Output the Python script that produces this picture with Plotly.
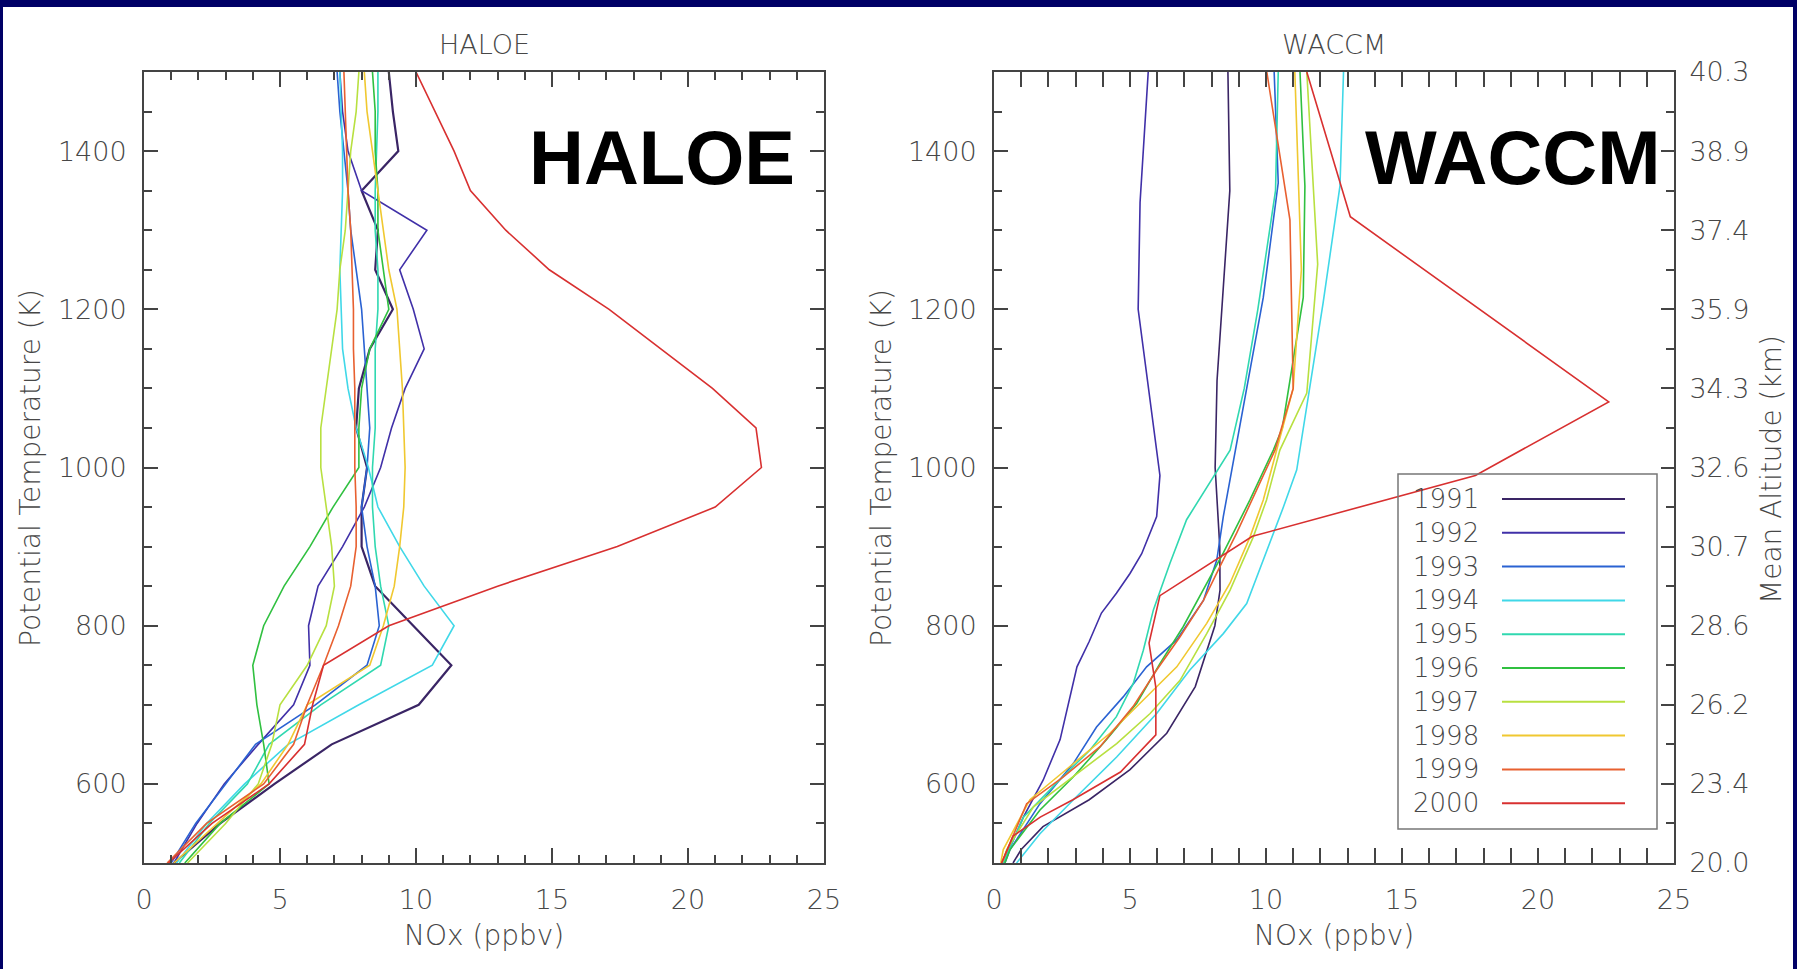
import plotly.graph_objects as go

W, H = 1797, 969

YEARS = ["1991", "1992", "1993", "1994", "1995", "1996", "1997", "1998", "1999", "2000"]
COLORS = ["#3a2565", "#4030a8", "#2a62d2", "#40d8e8", "#30d8b0",
          "#30c040", "#b8e040", "#f0c830", "#e86030", "#d83030"]

# ---------------- HALOE (left panel) ----------------
HALOE_THETA = [1500, 1450, 1400, 1350, 1300, 1250, 1200, 1150, 1100, 1050, 1000,
               950, 900, 850, 800, 750, 700, 650, 600, 550, 500]
HALOE_1991 = [9.0, 9.15, 9.35, 8.0, 8.6, 8.5, 9.15, 8.3, 7.9, 7.8, 8.2, 8.0, 8.0, 8.5, 9.9, 11.3, 10.1, 6.9, 4.8, 2.8, 1.1]
HALOE_1992 = [7.2, 7.3, 7.5, 8.0, 10.4, 9.4, 9.9, 10.3, 9.6, 9.1, 8.7, 8.1, 7.3, 6.4, 6.05, 6.1, 5.5, 4.2, 2.95, 1.95, 1.1]
HALOE_1993 = [7.1, 7.2, 7.35, 7.5, 7.6, 7.8, 8.0, 8.1, 8.2, 8.3, 8.2, 8.0, 8.2, 8.5, 8.65, 8.2, 6.3, 4.1, 3.0, 1.9, 1.0]
HALOE_1994 = [7.2, 7.25, 7.3, 7.3, 7.25, 7.2, 7.25, 7.3, 7.5, 7.8, 8.25, 8.6, 9.4, 10.3, 11.4, 10.6, 7.9, 5.3, 3.7, 2.3, 1.2]
HALOE_1995 = [8.6, 8.6, 8.55, 8.5, 8.5, 8.6, 8.6, 8.5, 8.5, 8.5, 8.4, 8.4, 8.5, 8.7, 9.0, 8.7, 6.5, 4.6, 3.8, 2.4, 1.3]
HALOE_1996 = [8.4, 8.5, 8.5, 8.6, 8.6, 8.8, 9.0, 8.3, 8.0, 7.9, 7.9, 6.95, 6.1, 5.15, 4.4, 4.0, 4.15, 4.4, 4.6, 2.8, 1.5]
HALOE_1997 = [7.9, 7.8, 7.6, 7.5, 7.4, 7.2, 7.1, 6.9, 6.7, 6.5, 6.5, 6.7, 6.9, 7.0, 6.7, 6.0, 5.0, 4.7, 4.2, 3.0, 1.6]
HALOE_1998 = [8.1, 8.2, 8.4, 8.6, 8.8, 9.0, 9.3, 9.4, 9.5, 9.55, 9.6, 9.55, 9.4, 9.2, 8.8, 8.3, 6.0, 5.3, 4.3, 2.7, 1.1]
HALOE_1999 = [7.35, 7.4, 7.45, 7.5, 7.6, 7.65, 7.7, 7.7, 7.75, 7.75, 7.75, 7.8, 7.8, 7.6, 7.15, 6.6, 6.0, 5.5, 4.4, 2.3, 0.85]
HALOE_2000 = [10.0, 10.7, 11.4, 12.0, 13.3, 14.9, 17.1, 19.0, 20.9, 22.5, 22.7, 21.0, 17.4, 13.0, 9.0, 6.6, 6.2, 5.9, 4.6, 2.5, 0.9]
HALOE_SERIES = [HALOE_1991, HALOE_1992, HALOE_1993, HALOE_1994, HALOE_1995,
                HALOE_1996, HALOE_1997, HALOE_1998, HALOE_1999, HALOE_2000]

# ---------------- WACCM (right panel) ----------------
WACCM_THETA_1991 = [1500, 1350, 1110, 1000, 900, 845, 800, 723, 664, 618, 580, 546, 517, 500]
WACCM_1991 = [8.6, 8.67, 8.2, 8.13, 8.3, 8.31, 8.12, 7.4, 6.35, 5.0, 3.5, 1.8, 1.0, 0.7]
WACCM_THETA_1992 = [1500, 1335, 1200, 990, 938, 891, 866, 841, 816, 780, 748, 710, 656, 605, 558, 500]
WACCM_1992 = [5.67, 5.37, 5.3, 6.1, 5.98, 5.43, 5.0, 4.5, 3.95, 3.5, 3.05, 2.8, 2.43, 1.81, 1.08, 0.34]
WACCM_THETA_1993 = [1500, 1360, 1215, 1000, 938, 883, 832, 782, 748, 710, 672, 626, 575, 517, 500]
WACCM_1993 = [10.3, 10.45, 9.9, 8.75, 8.43, 8.19, 7.7, 6.72, 5.61, 4.75, 3.77, 2.92, 1.69, 0.59, 0.4]
WACCM_THETA_1994 = [1500, 1356, 1208, 997, 950, 883, 828, 790, 744, 689, 634, 580, 537, 500]
WACCM_1994 = [12.85, 12.72, 12.1, 11.13, 10.64, 9.9, 9.29, 8.43, 7.2, 5.98, 4.51, 2.92, 1.69, 0.83]
WACCM_THETA_1995 = [1500, 1350, 1200, 1100, 1022, 934, 879, 820, 769, 727, 685, 643, 601, 558, 500]
WACCM_1995 = [10.45, 10.35, 9.7, 9.2, 8.68, 7.08, 6.47, 5.86, 5.49, 5.12, 4.5, 3.53, 2.3, 1.08, 0.34]
WACCM_THETA_1996 = [1500, 1356, 1215, 1050, 1022, 959, 892, 845, 799, 752, 702, 656, 609, 567, 517, 500]
WACCM_1996 = [11.25, 11.43, 11.37, 10.6, 10.27, 9.41, 8.43, 7.7, 6.96, 6.1, 5.25, 4.14, 2.92, 1.69, 0.59, 0.4]
WACCM_THETA_1997 = [1500, 1257, 1094, 1022, 959, 912, 845, 790, 731, 689, 651, 609, 571, 517, 500]
WACCM_1997 = [11.5, 11.9, 11.5, 10.51, 10.02, 9.53, 8.68, 7.82, 6.84, 5.74, 4.51, 2.92, 1.45, 0.47, 0.3]
WACCM_THETA_1998 = [1500, 1250, 1100, 1022, 959, 912, 854, 803, 748, 706, 664, 622, 580, 517, 500]
WACCM_1998 = [11.06, 11.3, 11.0, 10.4, 9.9, 9.41, 8.68, 7.82, 6.72, 5.49, 4.26, 2.79, 1.32, 0.34, 0.25]
WACCM_THETA_1999 = [1500, 1313, 1100, 1022, 972, 917, 875, 832, 786, 744, 698, 647, 609, 575, 500]
WACCM_1999 = [10.03, 10.88, 11.0, 10.33, 9.66, 8.92, 8.31, 7.7, 6.84, 5.98, 5.12, 3.9, 2.55, 1.2, 0.28]
WACCM_THETA_2000 = [1500, 1317, 1083, 990, 913, 838, 778, 722, 662, 615, 580, 558, 534, 500]
WACCM_2000 = [11.5, 13.1, 22.6, 17.7, 9.5, 6.1, 5.7, 5.95, 5.95, 4.65, 2.9, 1.7, 0.7, 0.28]
WACCM_THETAS = [WACCM_THETA_1991, WACCM_THETA_1992, WACCM_THETA_1993, WACCM_THETA_1994,
                WACCM_THETA_1995, WACCM_THETA_1996, WACCM_THETA_1997, WACCM_THETA_1998,
                WACCM_THETA_1999, WACCM_THETA_2000]
WACCM_SERIES = [WACCM_1991, WACCM_1992, WACCM_1993, WACCM_1994, WACCM_1995,
                WACCM_1996, WACCM_1997, WACCM_1998, WACCM_1999, WACCM_2000]

# ---------------- ticks ----------------
X_TICKS = [0, 5, 10, 15, 20, 25]
THETA_TICKS = [600, 800, 1000, 1200, 1400]
ALT_TICK_THETA = [500, 600, 700, 800, 900, 1000, 1100, 1200, 1300, 1400, 1500]
ALT_TICK_TEXT = ["20.0", "23.4", "26.2", "28.6", "30.7", "32.6", "34.3", "35.9", "37.4", "38.9", "40.3"]

FONT = "DejaVu Sans"
TXT = "#474747"
AXC = "#444444"
LIGHT = 300

def tf(size):
    return dict(family=FONT, size=size, color=TXT, weight=LIGHT)

fig = go.Figure()

for i, yr in enumerate(YEARS):
    fig.add_trace(go.Scatter(x=HALOE_SERIES[i], y=HALOE_THETA, mode="lines",
                             line=dict(color=COLORS[i], width=2.2 if i == 0 else 1.6),
                             xaxis="x", yaxis="y", showlegend=False, name=yr))
for i, yr in enumerate(YEARS):
    # the last series is attached to the altitude axis (same theta range) so that axis is drawn
    fig.add_trace(go.Scatter(x=WACCM_SERIES[i], y=WACCM_THETAS[i], mode="lines",
                             line=dict(color=COLORS[i], width=1.6),
                             xaxis="x2", yaxis="y3" if i == len(YEARS) - 1 else "y2",
                             showlegend=False, name=yr))

ydom = [1 - 863 / H, 1 - 72 / H]

def xax(domain, anchor):
    return dict(domain=domain, anchor=anchor, range=[0, 25], tickvals=X_TICKS,
                ticks="inside", ticklen=15, tickwidth=1.5, tickcolor=AXC,
                minor=dict(dtick=1, tick0=0, ticks="inside", ticklen=8, tickwidth=1.5, tickcolor=AXC),
                showline=True, linecolor=AXC, linewidth=2, mirror="allticks",
                showgrid=False, zeroline=False, ticklabelstandoff=12, automargin=False,
                tickfont=tf(27))

def yax(anchor, mirror):
    return dict(domain=ydom, anchor=anchor, range=[500, 1500], tickvals=THETA_TICKS,
                ticks="inside", ticklen=14, tickwidth=1.5, tickcolor=AXC,
                minor=dict(dtick=50, tick0=500, ticks="inside", ticklen=8, tickwidth=1.5, tickcolor=AXC),
                showline=True, linecolor=AXC, linewidth=2, mirror=mirror,
                showgrid=False, zeroline=False, ticklabelstandoff=10, automargin=False,
                tickfont=tf(27))

fig.update_layout(
    width=W, height=H, margin=dict(l=0, r=0, t=0, b=0, autoexpand=False),
    paper_bgcolor="#000066", plot_bgcolor="white",
    xaxis=xax([144 / W, 824 / W], "y"),
    yaxis=yax("x", "allticks"),
    xaxis2=xax([994 / W, 1674 / W], "y2"),
    yaxis2=yax("x2", False),
    yaxis3=dict(domain=ydom, anchor="x2", overlaying="y2", side="right", range=[500, 1500],
                tickvals=ALT_TICK_THETA, ticktext=ALT_TICK_TEXT,
                ticks="inside", ticklen=13, tickwidth=1.5, tickcolor=AXC,
                minor=dict(dtick=50, tick0=500, ticks="inside", ticklen=8, tickwidth=1.5, tickcolor=AXC),
                showline=True, linecolor=AXC, linewidth=2, showgrid=False, zeroline=False,
                automargin=False, ticklabelstandoff=8, tickfont=tf(27)),
    showlegend=False,
)

shapes = [dict(type="rect", xref="paper", yref="paper", x0=3 / W, x1=1793 / W, y0=0, y1=1 - 7 / H,
               fillcolor="white", line=dict(width=0), layer="below")]

# legend box and samples
shapes.append(dict(type="rect", xref="paper", yref="paper", x0=1398 / W, x1=1657 / W,
                   y0=1 - 829 / H, y1=1 - 474 / H, line=dict(color="#777777", width=1.5),
                   fillcolor="rgba(0,0,0,0)", layer="above"))
annotations = []
for i, yr in enumerate(YEARS):
    ypx = 499 + i * 33.8
    shapes.append(dict(type="line", xref="paper", yref="paper", x0=1502 / W, x1=1625 / W,
                       y0=1 - ypx / H, y1=1 - ypx / H, line=dict(color=COLORS[i], width=2)))
    annotations.append(dict(text=yr, xref="paper", yref="paper", x=1411 / W, y=1 - ypx / H,
                            xanchor="left", yanchor="middle", showarrow=False, font=tf(26)))

def ann(text, x, y, size, angle=0, font=None):
    annotations.append(dict(text=text, xref="paper", yref="paper", x=x / W, y=1 - y / H,
                            xanchor="center", yanchor="middle", showarrow=False, textangle=angle,
                            font=font if font else tf(size)))

ann("HALOE", 484, 44, 27)
ann("WACCM", 1334, 44, 27)
ann("NOx (ppbv)", 484, 935, 28)
ann("NOx (ppbv)", 1334, 935, 28)
ann("Potential Temperature (K)", 30, 468, 28, angle=-90)
ann("Potential Temperature (K)", 881, 468, 28, angle=-90)
ann("Mean Altitude (km)", 1771, 470, 28, angle=-90)
BIG = dict(family="Liberation Sans, Arial", size=76, color="black")
ann("<b>HALOE</b>", 662, 158, 76, font=BIG)
ann("<b>WACCM</b>", 1513, 158, 76, font=BIG)

fig.update_layout(shapes=shapes, annotations=annotations)
fig.write_html("out.html")
